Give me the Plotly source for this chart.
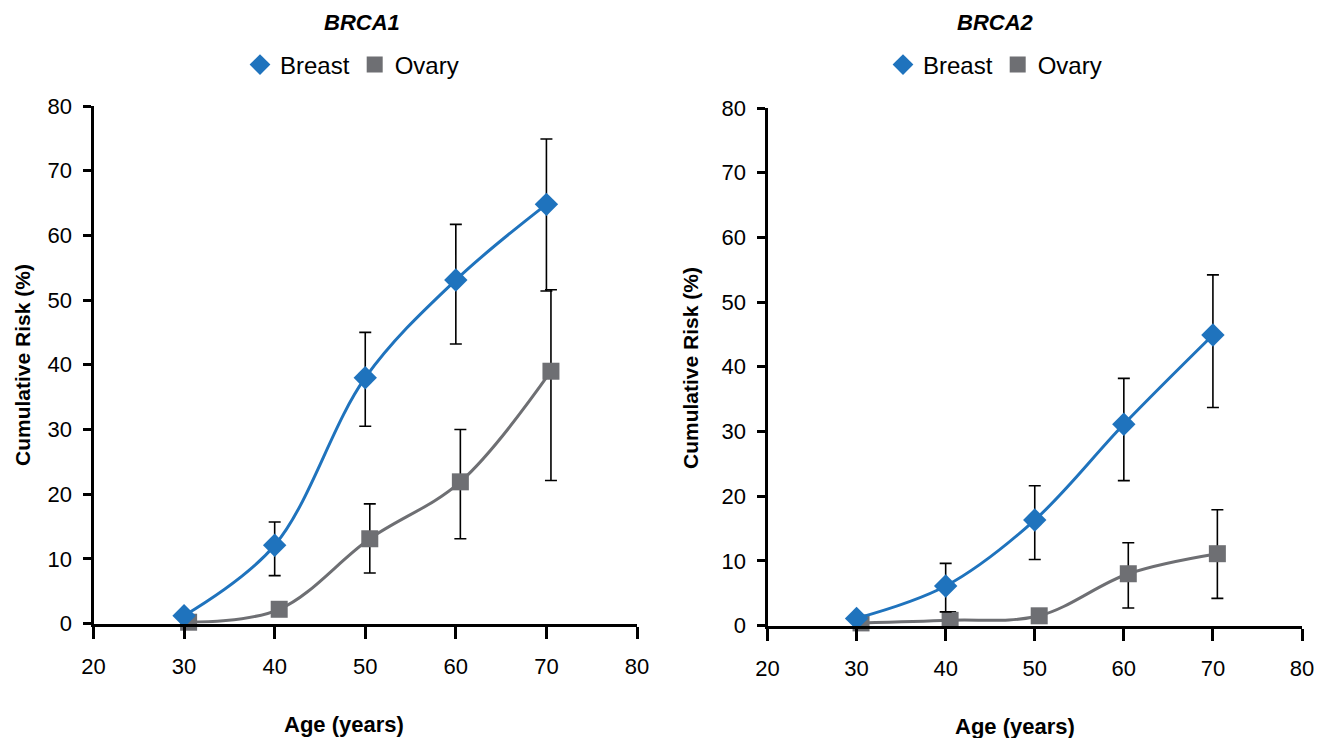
import plotly.graph_objects as go

# ---- data ----
ages = [30, 40, 50, 60, 70]

brca1_breast = [1.2, 12.1, 38.0, 53.1, 64.8]
brca1_breast_hi = [1.2, 15.7, 45.0, 61.7, 74.9]
brca1_breast_lo = [1.2, 7.4, 30.5, 43.2, 51.4]

brca1_ovary = [0.2, 2.2, 13.1, 21.9, 39.0]
brca1_ovary_hi = [0.2, 2.2, 18.5, 30.0, 51.6]
brca1_ovary_lo = [0.2, 2.2, 7.8, 13.1, 22.1]

brca2_breast = [1.1, 6.1, 16.3, 31.1, 44.9]
brca2_breast_hi = [1.1, 9.6, 21.6, 38.2, 54.2]
brca2_breast_lo = [1.1, 2.1, 10.2, 22.4, 33.7]

brca2_ovary = [0.4, 0.8, 1.5, 8.0, 11.1]
brca2_ovary_hi = [0.4, 2.1, 1.5, 12.8, 17.9]
brca2_ovary_lo = [0.4, 0.0, 1.5, 2.7, 4.2]

x_ticks = [20, 30, 40, 50, 60, 70, 80]
y_ticks = [0, 10, 20, 30, 40, 50, 60, 70, 80]
panel_titles = ["BRCA1", "BRCA2"]
series_names = ["Breast", "Ovary"]
x_title = "Age (years)"
y_title = "Cumulative Risk (%)"

BLUE = "#1f73bd"
GRAY = "#6e6f73"
FONT = "Liberation Sans"
OFF = 8                      # page body margin: figure starts 8px in from the window corner
W, H = 1325 - OFF, 738 - OFF
OVARY_SHIFT = 0.5  # ovary points sit slightly right of the age tick in the source


def fx(px):  # window pixel -> paper x
    return (px - OFF) / W


def fy(py):  # window pixel -> paper y
    return 1 - (py - OFF) / H


fig = go.Figure()


def err(vals, hi, lo):
    return dict(type="data", symmetric=False,
                array=[h - v for h, v in zip(hi, vals)],
                arrayminus=[v - l for v, l in zip(vals, lo)],
                color="black", thickness=1.6, width=6)


def add_panel(xa, ya, legend, breast, bhi, blo, ovary, ohi, olo):
    fig.add_trace(go.Scatter(
        x=[a + OVARY_SHIFT for a in ages], y=ovary, name=series_names[1],
        mode="lines+markers", line=dict(color=GRAY, width=3, shape="spline"),
        marker=dict(symbol="square", size=17, color=GRAY),
        error_y=err(ovary, ohi, olo), showlegend=False,
        xaxis=xa, yaxis=ya, cliponaxis=False))
    fig.add_trace(go.Scatter(
        x=ages, y=breast, name=series_names[0],
        mode="lines+markers", line=dict(color=BLUE, width=3, shape="spline"),
        marker=dict(symbol="diamond", size=18, color=BLUE),
        error_y=err(breast, bhi, blo), showlegend=False,
        xaxis=xa, yaxis=ya, cliponaxis=False))
    # legend entries (markers only, as in the source legend)
    fig.add_trace(go.Scatter(
        x=[None], y=[None], name=series_names[0], mode="markers",
        marker=dict(symbol="diamond", size=18, color=BLUE),
        xaxis=xa, yaxis=ya, legend=legend, legendrank=1))
    fig.add_trace(go.Scatter(
        x=[None], y=[None], name=series_names[1], mode="markers",
        marker=dict(symbol="square", size=17, color=GRAY),
        xaxis=xa, yaxis=ya, legend=legend, legendrank=2))


add_panel("x", "y", "legend", brca1_breast, brca1_breast_hi, brca1_breast_lo,
          brca1_ovary, brca1_ovary_hi, brca1_ovary_lo)
add_panel("x2", "y2", "legend2", brca2_breast, brca2_breast_hi, brca2_breast_lo,
          brca2_ovary, brca2_ovary_hi, brca2_ovary_lo)

tickfont = dict(family=FONT, size=22, color="black")
xcommon = dict(showline=True, linecolor="black", linewidth=3, ticks="outside",
               ticklen=12, tickwidth=3, tickcolor="black", showgrid=False,
               zeroline=False, tickfont=tickfont, range=[20, 80], tickvals=x_ticks,
               ticklabelstandoff=9)
ycommon = dict(showline=True, linecolor="black", linewidth=3, ticks="outside",
               ticklen=8, tickwidth=3, tickcolor="black", showgrid=False,
               zeroline=False, tickfont=tickfont, range=[0, 80], tickvals=y_ticks,
               ticklabelstandoff=6)

# plot-area placement in window pixels: (left, right, top, bottom)
P1 = (93.5, 637, 106, 623.5)
P2 = (767.5, 1302, 108, 625.5)

legend_common = dict(orientation="h", yanchor="middle", y=fy(65),
                     xanchor="center", font=dict(family=FONT, size=24, color="black"),
                     traceorder="normal", itemwidth=30, bgcolor="rgba(0,0,0,0)",
                     itemsizing="trace")

fig.update_layout(
    width=W, height=H,
    margin=dict(l=0, r=0, t=0, b=0, pad=0, autoexpand=False),
    plot_bgcolor="white", paper_bgcolor="white",
    font=dict(family=FONT, color="black"),
    xaxis=dict(domain=[fx(P1[0]), fx(P1[1])], anchor="y", **xcommon),
    yaxis=dict(domain=[fy(P1[3]), fy(P1[2])], anchor="x", **ycommon),
    xaxis2=dict(domain=[fx(P2[0]), fx(P2[1])], anchor="y2", **xcommon),
    yaxis2=dict(domain=[fy(P2[3]), fy(P2[2])], anchor="x2", **ycommon),
    legend=dict(x=fx(352), **legend_common),
    legend2=dict(x=fx(995), **legend_common),
    showlegend=True,
)

ann = []
for title, cx in zip(panel_titles, [362, 996]):
    ann.append(dict(text=f"<b><i>{title}</i></b>", x=fx(cx), y=fy(23),
                    xanchor="center", yanchor="middle",
                    xref="paper", yref="paper", showarrow=False,
                    font=dict(family=FONT, size=22, color="black")))
for cx, cy in [(344, 724), (1015, 726)]:
    ann.append(dict(text=f"<b>{x_title}</b>", x=fx(cx), y=fy(cy),
                    xanchor="center", yanchor="middle",
                    xref="paper", yref="paper", showarrow=False,
                    font=dict(family=FONT, size=22, color="black")))
for cx, cy in [(22, 365), (690, 368)]:
    ann.append(dict(text=f"<b>{y_title}</b>", x=fx(cx), y=fy(cy),
                    xanchor="center", yanchor="middle", textangle=-90,
                    xref="paper", yref="paper", showarrow=False,
                    font=dict(family=FONT, size=21, color="black")))
fig.update_layout(annotations=ann)

fig.write_html("out.html")
